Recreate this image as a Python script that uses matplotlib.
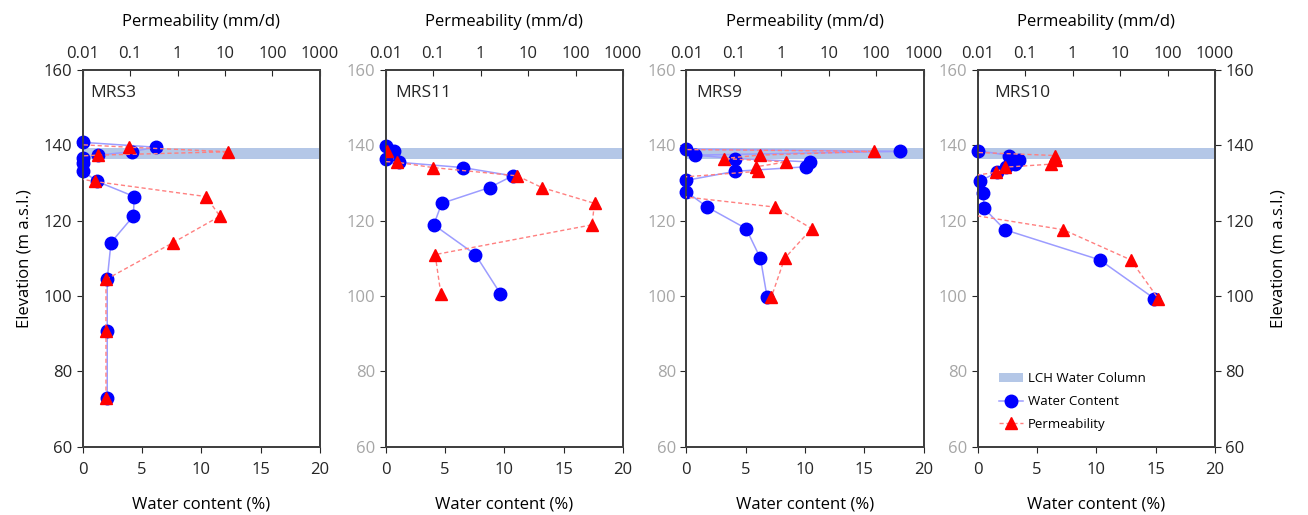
import matplotlib
matplotlib.use("Agg")
import matplotlib.pyplot as plt
from matplotlib.lines import Line2D
from matplotlib.patches import Patch

plt.rcParams['font.family'] = ['Open Sans', 'DejaVu Sans']
plt.rcParams['font.size'] = 10

# sites, left to right
sites = ["MRS3", "MRS11", "MRS9", "MRS10"]

# elevation (m a.s.l.), water content (%), permeability (mm/d); 0.001 = below axis range
elev3 = [140.8, 139.5, 138.3, 137.4, 136.6, 135.2, 133.2, 130.4, 126.4, 121.2, 114.2, 104.4, 90.7, 73.0]
wc3 = [0, 6.15, 4.13, 1.3, 0, 0, 0, 1.23, 4.35, 4.27, 2.39, 2.07, 2.07, 2.07]
perm3 = [0.001, 0.094, 11.7, 0.0214, 0.001, 0.001, 0.001, 0.018, 3.96, 7.8, 0.81, 0.031, 0.031, 0.031]

elev11 = [139.9, 138.5, 136.4, 135.5, 134.1, 131.9, 128.8, 124.6, 118.9, 111.0, 100.6]
wc11 = [0, 0.70, 0, 1.12, 6.5, 10.7, 8.75, 4.72, 4.05, 7.56, 9.67]
perm11 = [0.001, 0.0105, 0.001, 0.0176, 0.098, 5.9, 19.5, 251, 222, 0.11, 0.145]

elev9 = [139.0, 138.4, 137.4, 136.5, 135.6, 134.3, 133.1, 130.7, 127.7, 123.6, 117.9, 110.0, 99.7]
wc9 = [0, 18.0, 0.73, 4.08, 10.44, 10.07, 4.1, 0, 0, 1.77, 5.04, 6.25, 6.81]
perm9 = [0.001, 92, 0.35, 0.061, 1.28, 0.295, 0.32, 0.001, 0.001, 0.75, 4.39, 1.18, 0.62]

elev10 = [138.6, 137.3, 136.1, 135.0, 134.2, 132.8, 130.5, 127.4, 123.3, 117.6, 109.6, 99.3]
wc10 = [0, 2.67, 3.51, 3.15, 2.39, 1.6, 0.2, 0.48, 0.53, 2.28, 10.28, 14.9]
perm10 = [0.001, 0.42, 0.45, 0.35, 0.0376, 0.0243, 0.001, 0.001, 0.001, 0.64, 16.7, 64]

# LCH water column (m a.s.l.)
lch_bottom = 136.5
lch_top = 139.3

elevs = [elev3, elev11, elev9, elev10]
wcs = [wc3, wc11, wc9, wc10]
perms = [perm3, perm11, perm9, perm10]

perm_ticks = [0.01, 0.1, 1, 10, 100, 1000]
perm_labels = ["0.01", "0.1", "1", "10", "100", "1000"]
wc_ticks = [0, 5, 10, 15, 20]
elev_ticks = [60, 80, 100, 120, 140, 160]

band_col = '#b4c7e7'
dark = '#262626'
grey = '#a6a6a6'
fs = 12

fig = plt.figure(figsize=(13.08, 5.15), dpi=100)
lefts = [0.0632, 0.2949, 0.5247, 0.7475]
label_x = [0.034, 0.04, 0.04, 0.07]

for i in range(4):
    ax = fig.add_axes([lefts[i], 0.1326, 0.1814, 0.7315])
    ax.axhspan(lch_bottom, lch_top, color=band_col, lw=0, zorder=1)
    ax.plot(wcs[i], elevs[i], color='#9c9cff', lw=1.1, marker='o', ms=9,
            mfc='#0000ff', mec='#0000ff', zorder=3, clip_on=False)
    ax.set_xlim(0, 20)
    ax.set_ylim(60, 160)
    ax.set_xticks(wc_ticks)
    ax.set_yticks(elev_ticks)
    ax.set_xlabel("Water content (%)", fontsize=fs, labelpad=13)
    ax.tick_params(axis='x', direction='out', length=4, colors=dark, labelcolor=dark, labelsize=fs, pad=7)
    ax.tick_params(axis='y', direction='out', length=4, colors=dark, labelsize=fs)
    if i == 0:
        ax.set_ylabel("Elevation (m a.s.l.)", fontsize=fs, labelpad=8)
        ax.tick_params(axis='y', labelcolor=dark)
    else:
        ax.tick_params(axis='y', labelcolor=grey)
    for s in ax.spines.values():
        s.set_color('#404040')
        s.set_linewidth(1.3)
    ax.text(label_x[i], 0.94, sites[i], transform=ax.transAxes, fontsize=12.5,
            va='center', ha='left', color=dark)

    ax2 = ax.twiny()
    ax2.set_xscale('log')
    ax2.plot(perms[i], elevs[i], color='#ff8080', lw=1, ls=(0, (3, 2)), marker='^',
             ms=9, mfc='#ff0000', mec='#ff0000', zorder=4)
    ax2.set_xlim(0.01, 1000)
    ax2.set_xticks(perm_ticks)
    ax2.set_xticklabels(perm_labels)
    ax2.xaxis.set_minor_locator(matplotlib.ticker.NullLocator())
    ax2.set_xlabel("Permeability (mm/d)", fontsize=fs, labelpad=14)
    ax2.tick_params(axis='x', direction='in', length=4, colors=dark, labelsize=fs, pad=6)
    for s in ax2.spines.values():
        s.set_color('#404040')
        s.set_linewidth(1.3)

    if i == 3:
        sec = ax.secondary_yaxis('right')
        sec.set_yticks(elev_ticks)
        sec.tick_params(direction='out', length=4, colors=dark, labelsize=fs)
        sec.spines['right'].set_color('#404040')
        sec.spines['right'].set_linewidth(1.3)
        sec.set_ylabel("Elevation (m a.s.l.)", fontsize=fs, labelpad=12)
        handles = [
            Patch(facecolor=band_col, edgecolor='none'),
            Line2D([], [], color='#9c9cff', lw=1.1, marker='o', ms=9, mfc='#0000ff', mec='#0000ff'),
            Line2D([], [], color='#ff8080', lw=1, ls=(0, (3, 2)), marker='^', ms=9,
                   mfc='#ff0000', mec='#ff0000'),
        ]
        ax2.legend(handles, ["LCH Water Column", "Water Content", "Permeability"],
                   loc='lower left', bbox_to_anchor=(0.04, 0.01), frameon=False,
                   fontsize=9.5, handlelength=1.8, labelspacing=0.75, handletextpad=0.4)

fig.savefig("out.png", dpi=100)
